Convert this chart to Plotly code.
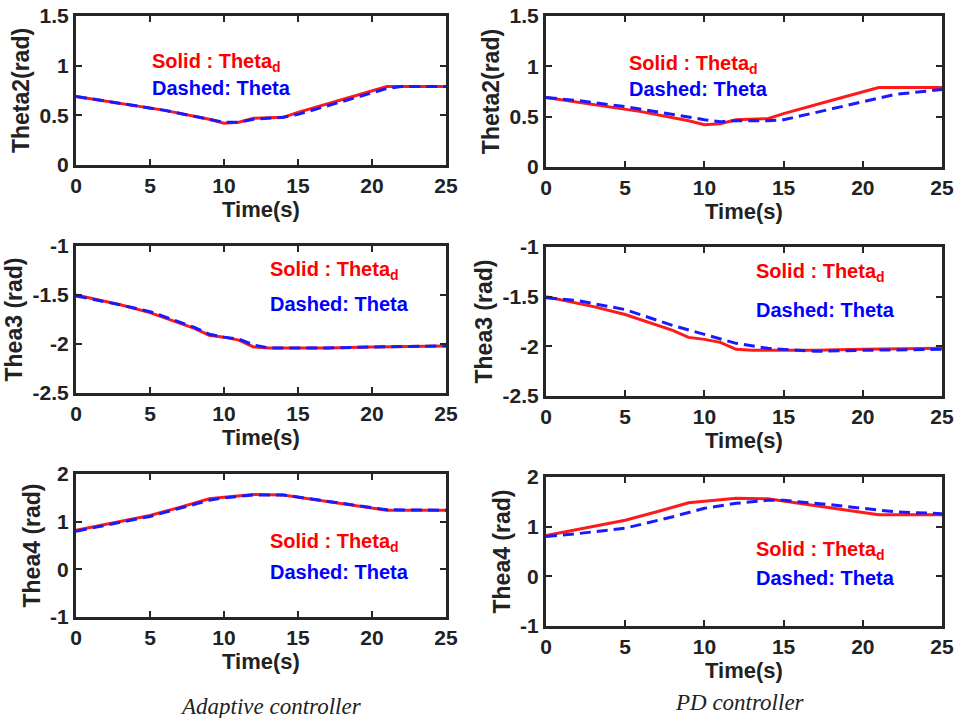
import plotly.graph_objects as go

W, H = 955, 718

# ---------------- data ----------------
t_th2_d = [0, 3, 6, 9, 10, 11, 12, 14, 15, 18, 21, 25]
th2_d = [0.69, 0.62, 0.55, 0.46, 0.42, 0.43, 0.47, 0.48, 0.53, 0.66, 0.79, 0.79]
t_th2_ad = [0, 3, 6, 9, 10, 11, 12, 14, 15, 18, 21, 22, 25]
th2_ad = [0.69, 0.62, 0.55, 0.46, 0.43, 0.43, 0.46, 0.48, 0.51, 0.64, 0.77, 0.79, 0.79]
t_th2_pd = [0, 2, 5, 8, 10, 11, 12, 14, 15, 17, 20, 22, 25]
th2_pd = [0.69, 0.66, 0.60, 0.52, 0.47, 0.45, 0.46, 0.46, 0.47, 0.54, 0.65, 0.72, 0.77]

t_th3_d = [0, 3, 5, 8, 9, 10, 11, 12, 13, 17, 20, 25]
th3_d = [-1.50, -1.60, -1.68, -1.84, -1.91, -1.93, -1.96, -2.03, -2.04, -2.04, -2.03, -2.02]
t_th3_ad = [0, 3, 5, 8, 9, 10, 11, 12, 13, 17, 20, 25]
th3_ad = [-1.51, -1.60, -1.67, -1.83, -1.90, -1.93, -1.95, -2.01, -2.04, -2.04, -2.03, -2.02]
t_th3_pd = [0, 2, 5, 8, 10, 12, 14, 17, 20, 25]
th3_pd = [-1.51, -1.54, -1.63, -1.79, -1.88, -1.97, -2.02, -2.05, -2.04, -2.03]

t_th4_d = [0, 3, 5, 7, 9, 10, 12, 14, 17, 20, 21, 25]
th4_d = [0.82, 1.00, 1.13, 1.30, 1.48, 1.51, 1.57, 1.56, 1.42, 1.29, 1.24, 1.24]
t_th4_ad = [0, 3, 5, 7, 9, 10, 12, 14, 17, 20, 21, 25]
th4_ad = [0.80, 0.99, 1.11, 1.28, 1.45, 1.50, 1.56, 1.56, 1.43, 1.30, 1.25, 1.24]
t_th4_pd = [0, 2, 5, 8, 10, 12, 14, 15, 18, 20, 22, 25]
th4_pd = [0.80, 0.86, 0.97, 1.20, 1.37, 1.47, 1.53, 1.53, 1.44, 1.37, 1.30, 1.26]

x_ticks = [0, 5, 10, 15, 20, 25]
x_ticklabels = ["0", "5", "10", "15", "20", "25"]
y_ranges = [[0, 1.5], [-2.5, -1], [-1, 2]]
y_ticks = [[0, 0.5, 1, 1.5], [-2.5, -2, -1.5, -1], [-1, 0, 1, 2]]
y_ticklabels = [["0", "0.5", "1", "1.5"], ["-2.5", "-2", "-1.5", "-1"], ["-1", "0", "1", "2"]]
y_titles = ["Theta2(rad)", "Thea3 (rad)", "Thea4 (rad)"]
x_title = "Time(s)"
captions = ["Adaptive controller", "PD controller"]
label_solid = "Solid : Theta<sub>d</sub>"
label_dashed = "Dashed: Theta"

# annotation anchor positions (data coords) per panel: (x, y_solid, y_dashed)
label_pos = {
    (0, 0): (5.0, 1.03, 0.78), (0, 1): (5.1, 1.02, 0.77),
    (1, 0): (13.0, -1.245, -1.59), (1, 1): (13.1, -1.26, -1.63),
    (2, 0): (13.0, 0.57, -0.06), (2, 1): (13.1, 0.53, -0.03),
}

panels = {
    (0, 0): (t_th2_d, th2_d, t_th2_ad, th2_ad),
    (0, 1): (t_th2_d, th2_d, t_th2_pd, th2_pd),
    (1, 0): (t_th3_d, th3_d, t_th3_ad, th3_ad),
    (1, 1): (t_th3_d, th3_d, t_th3_pd, th3_pd),
    (2, 0): (t_th4_d, th4_d, t_th4_ad, th4_ad),
    (2, 1): (t_th4_d, th4_d, t_th4_pd, th4_pd),
}

# pixel boxes: (left, right, top, bottom)
boxes = {
    (0, 0): (76, 446, 16, 165), (0, 1): (546, 942, 16, 167),
    (1, 0): (76, 446, 246, 393), (1, 1): (546, 942, 247, 396),
    (2, 0): (76, 446, 474, 617), (2, 1): (546, 942, 477, 626),
}

RED = "#ff1a1a"
BLUE = "#1a1aff"
FRAME = "#262626"
TXT = "#222222"
FONT = "Liberation Sans"

fig = go.Figure()
layout = dict(
    width=W, height=H, margin=dict(l=0, r=0, t=0, b=0, autoexpand=False),
    paper_bgcolor="white", plot_bgcolor="white", showlegend=False,
    font=dict(family=FONT, color=TXT),
)
annotations = []

k = 0
for (r, c), (td, yd, ta, ya) in panels.items():
    k += 1
    xa = "x" if k == 1 else f"x{k}"
    ya_ = "y" if k == 1 else f"y{k}"
    l, rr, tp, bt = boxes[(r, c)]
    fig.add_trace(go.Scatter(x=td, y=yd, mode="lines", xaxis=xa, yaxis=ya_,
                             line=dict(color=RED, width=3)))
    fig.add_trace(go.Scatter(x=ta, y=ya, mode="lines", xaxis=xa, yaxis=ya_,
                             line=dict(color=BLUE, width=3, dash="11px,6px")))
    axcommon = dict(showline=True, linecolor=FRAME, linewidth=3, mirror="ticks",
                    ticks="inside", ticklen=6, tickwidth=2, tickcolor=FRAME,
                    showgrid=False, zeroline=False, automargin=False,
                    tickfont=dict(family=FONT, size=21, color=TXT))
    layout["xaxis" if k == 1 else f"xaxis{k}"] = dict(
        domain=[l / W, rr / W], range=[0, 25], tickmode="array",
        tickvals=x_ticks, ticktext=["<b>" + s + "</b>" for s in x_ticklabels],
        anchor=ya_, title=dict(text="<b>" + x_title + "</b>", standoff=0,
                               font=dict(family=FONT, size=22, color=TXT)),
        **axcommon)
    layout["yaxis" if k == 1 else f"yaxis{k}"] = dict(
        domain=[1 - bt / H, 1 - tp / H], range=y_ranges[r], tickmode="array",
        tickvals=y_ticks[r], ticktext=["<b>" + s + "</b>" for s in y_ticklabels[r]],
        anchor=xa,
        title=dict(text="<b>" + y_titles[r] + "</b>", standoff=4,
                   font=dict(family=FONT, size=23, color=TXT)),
        **axcommon)
    lx, ys, yds = label_pos[(r, c)]
    annotations.append(dict(x=lx, y=ys, xref=xa, yref=ya_, text="<b>" + label_solid + "</b>",
                            showarrow=False, xanchor="left", yanchor="middle",
                            font=dict(family=FONT, size=20, color="#ff0000")))
    annotations.append(dict(x=lx, y=yds, xref=xa, yref=ya_, text="<b>" + label_dashed + "</b>",
                            showarrow=False, xanchor="left", yanchor="middle",
                            font=dict(family=FONT, size=20, color="#0000ff")))

annotations.append(dict(x=271 / W, y=1 - 706 / H, xref="paper", yref="paper",
                        xanchor="center", yanchor="middle",
                        text="<i>" + captions[0] + "</i>", showarrow=False,
                        font=dict(family="Liberation Serif", size=23, color=TXT)))
annotations.append(dict(x=740 / W, y=1 - 702 / H, xref="paper", yref="paper",
                        xanchor="center", yanchor="middle",
                        text="<i>" + captions[1] + "</i>", showarrow=False,
                        font=dict(family="Liberation Serif", size=23, color=TXT)))
layout["annotations"] = annotations
fig.update_layout(**layout)
fig.write_html("out.html", config={"displayModeBar": False},
               post_script="document.body.style.margin='0';document.body.style.overflow='hidden';")
